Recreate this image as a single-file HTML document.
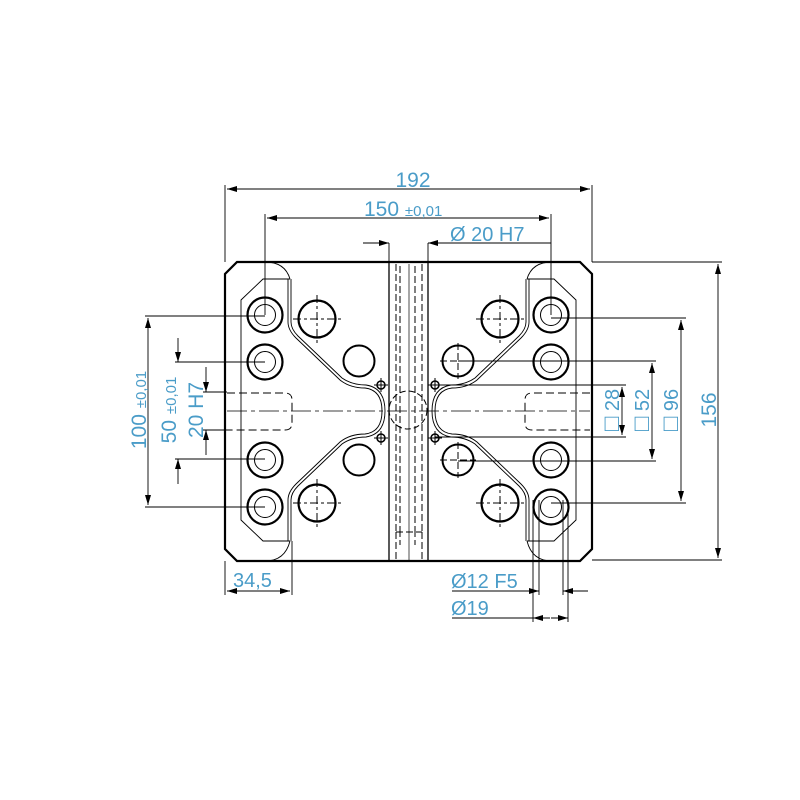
<!DOCTYPE html>
<html><head><meta charset="utf-8"><style>html,body{margin:0;padding:0;background:#fff}svg{display:block}
text{font-family:"Liberation Sans",sans-serif;fill:#4a9cc8;font-weight:normal}</style></head><body>
<svg width="800" height="800" viewBox="0 0 800 800" xmlns="http://www.w3.org/2000/svg">
<defs>
<marker id="a" viewBox="0 0 10 6" refX="10" refY="3" markerWidth="10" markerHeight="6" orient="auto-start-reverse" markerUnits="userSpaceOnUse"><path d="M0,0 L10,3 L0,6z" fill="#000"/></marker>
<g id="bh"><circle r="17.5" fill="none" stroke="#000" stroke-width="2.2"/><circle r="10.5" fill="none" stroke="#000" stroke-width="1"/></g>
<g id="ch"><circle r="18.5" fill="none" stroke="#000" stroke-width="2.2"/><path d="M-24,0H24M0,-24V24" stroke="#000" stroke-width="1" stroke-dasharray="8,3,3,3"/></g>
<g id="sh"><circle r="15.5" fill="none" stroke="#000" stroke-width="2"/></g>
<g id="th"><circle r="4" fill="none" stroke="#000" stroke-width="1.5"/><path d="M-7,0H7M0,-7V7" stroke="#000" stroke-width="1"/></g>
</defs>
<path d="M237,262 H580 L592,274 V549 L580,561 H237 L225,549 V274 Z" fill="none" stroke="#000" stroke-width="2.2"/>
<path d="M290,279 H263 L241,300 V520 L263,541 H290" fill="none" stroke="#000" stroke-width="0.9"/>
<path d="M527,279 H554 L576,300 V520 L554,541 H527" fill="none" stroke="#000" stroke-width="0.9"/>
<path d="M265,262 Q285,262 290,279 M265,561 Q285,561 290,541 M552,262 Q532,262 527,279 M552,561 Q532,561 527,541" fill="none" stroke="#000" stroke-width="0.9"/>
<g fill="none" stroke="#000" stroke-width="0.9">
<path d="M288,279 V322 Q288,330 296,338 L340,380 Q350,388 365,388 Q382,390 382,411 Q382,432 365,434 Q350,434 340,442 L296,484 Q288,492 288,500 V541"/>
<path d="M291,279 V322 Q291,329 298,336 L342,378 Q352,385 366,385 Q385,388 385,411 Q385,434 366,437 Q352,437 342,444 L298,486 Q291,493 291,500 V541"/>
<path d="M529,279 V322 Q529,330 521,338 L477,380 Q467,388 452,388 Q435,390 435,411 Q435,432 452,434 Q467,434 477,442 L521,484 Q529,492 529,500 V541"/>
<path d="M526,279 V322 Q526,329 519,336 L475,378 Q465,385 451,385 Q432,388 432,411 Q432,434 451,437 Q465,437 475,444 L519,486 Q526,493 526,500 V541"/>
</g>
<path d="M389,262 V561 M428,262 V561" stroke="#000" stroke-width="1.3"/>
<path d="M396,264 V532 M422,264 V532 M400,266 V530 M415,266 V530 M396,532 H422 M396,532 V561 M422,532 V561 M400,530 V545 M415,530 V545" stroke="#000" stroke-width="1" stroke-dasharray="7,3" fill="none"/>
<path d="M409,264 V560" stroke="#000" stroke-width="0.7"/>
<circle cx="408" cy="410" r="19" fill="none" stroke="#000" stroke-width="1" stroke-dasharray="6,3"/>
<path d="M227,393 H285 Q292,393 292,400 V423 Q292,430 285,430 H227 M590,393 H532 Q525,393 525,400 V423 Q525,430 532,430 H590" fill="none" stroke="#000" stroke-width="1" stroke-dasharray="8,4"/>
<path d="M227,411 H590" stroke="#000" stroke-width="0.8" stroke-dasharray="20,4,4,4"/>
<use href="#bh" x="265" y="315"/><use href="#bh" x="265" y="362"/><use href="#bh" x="265" y="460"/><use href="#bh" x="265" y="507"/>
<use href="#bh" x="551" y="315"/><use href="#bh" x="551" y="362"/><use href="#bh" x="551" y="460"/><use href="#bh" x="551" y="507"/>
<use href="#ch" x="317" y="319"/><use href="#ch" x="317" y="503"/><use href="#ch" x="500" y="319"/><use href="#ch" x="500" y="503"/>
<use href="#sh" x="359" y="361"/><use href="#sh" x="359" y="460"/>
<g><circle cx="458" cy="361" r="15.5" fill="none" stroke="#000" stroke-width="2"/><circle cx="458" cy="460" r="15.5" fill="none" stroke="#000" stroke-width="2"/><path d="M440,361H476M458,343V379M440,460H476M458,442V478" stroke="#000" stroke-width="1" stroke-dasharray="7,3"/></g>
<use href="#th" x="381" y="385"/><use href="#th" x="381" y="438"/><use href="#th" x="435" y="385"/><use href="#th" x="435" y="438"/>
<g stroke="#000" stroke-width="0.9" fill="none">
<path d="M225,185 V262 M592,185 V262"/>
<path d="M227,189 H590" marker-start="url(#a)" marker-end="url(#a)"/>
<path d="M265,214 V315 M551,214 V315"/>
<path d="M267,218 H549" marker-start="url(#a)" marker-end="url(#a)"/>
<path d="M389,243 V262 M428,243 V262"/>
<path d="M363,243 H389" marker-end="url(#a)"/><path d="M551,243 H428" marker-end="url(#a)"/>
<path d="M592,262 H722 M592,560 H722"/>
<path d="M718,264 V558" marker-start="url(#a)" marker-end="url(#a)"/>
<path d="M551,318 H686 M551,503 H686"/>
<path d="M681,320 V501" marker-start="url(#a)" marker-end="url(#a)"/>
<path d="M458,361 H656 M458,461 H656"/>
<path d="M652,363 V459" marker-start="url(#a)" marker-end="url(#a)"/>
<path d="M435,385 H626 M435,437 H626"/>
<path d="M622,387 V435" marker-start="url(#a)" marker-end="url(#a)"/>
<path d="M145,316 H265 M145,507 H265"/>
<path d="M148,318 V505" marker-start="url(#a)" marker-end="url(#a)"/>
<path d="M175,362 H265 M175,459 H265"/>
<path d="M178,338 V362" marker-end="url(#a)"/><path d="M178,484 V459" marker-end="url(#a)"/>
<path d="M203,392 H227 M203,430 H227"/>
<path d="M206,367 V392" marker-end="url(#a)"/><path d="M206,455 V430" marker-end="url(#a)"/>
<path d="M225,561 V595 M292,541 V595"/>
<path d="M227,591 H290" marker-start="url(#a)" marker-end="url(#a)"/>
<path d="M533,500 V622 M539,500 V595 M563,500 V595 M568,500 V622"/>
<path d="M452,591 H539" marker-end="url(#a)"/><path d="M588,591 H563" marker-end="url(#a)"/>
<path d="M452,618 H533"/>
<path d="M550,618 H533" marker-end="url(#a)"/><path d="M551,618 H568" marker-end="url(#a)"/>
</g>
<text x="413" y="187" font-size="21" text-anchor="middle">192</text>
<text x="364" y="216" font-size="21">150 <tspan font-size="15">±0,01</tspan></text>
<text x="450" y="241" font-size="20">Ø 20 H7</text>
<text x="233" y="587" font-size="20">34,5</text>
<text x="451" y="588" font-size="20">Ø12 F5</text>
<text x="451" y="615" font-size="20">Ø19</text>
<text transform="translate(716,410) rotate(-90)" font-size="21" text-anchor="middle">156</text>
<text transform="translate(678,410) rotate(-90)" font-size="20" text-anchor="middle"><tspan font-size="24">□</tspan> 96</text>
<text transform="translate(649,410) rotate(-90)" font-size="20" text-anchor="middle"><tspan font-size="24">□</tspan> 52</text>
<text transform="translate(619,410) rotate(-90)" font-size="20" text-anchor="middle"><tspan font-size="24">□</tspan> 28</text>
<text transform="translate(146,410) rotate(-90)" font-size="21" text-anchor="middle">100 <tspan font-size="15">±0,01</tspan></text>
<text transform="translate(176,410) rotate(-90)" font-size="21" text-anchor="middle">50 <tspan font-size="15">±0,01</tspan></text>
<text transform="translate(203,410) rotate(-90)" font-size="21" text-anchor="middle">20 H7</text>
</svg>
</body></html>
